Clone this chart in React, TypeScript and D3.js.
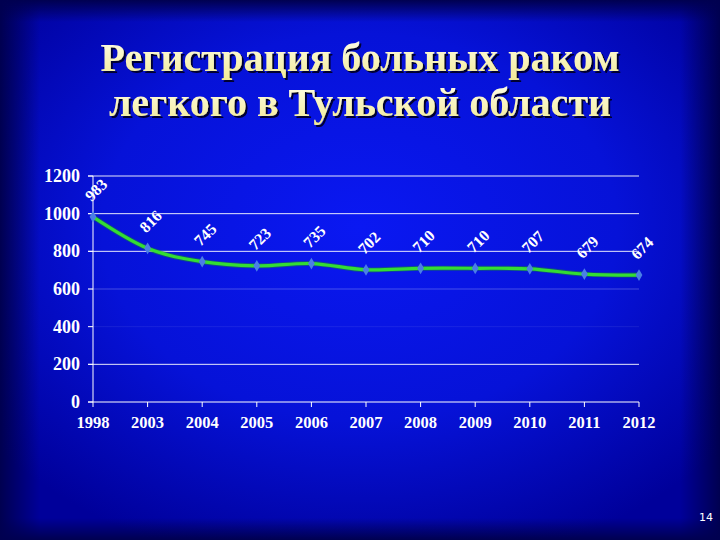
import React from "react";
import * as d3 from "d3";

const years = ["1998", "2003", "2004", "2005", "2006", "2007", "2008", "2009", "2010", "2011", "2012"];
const cases = [983, 816, 745, 723, 735, 702, 710, 710, 707, 679, 674];
const yTicks = [0, 200, 400, 600, 800, 1000, 1200];
const titleLines = ["Регистрация больных раком", "легкого в Тульской области"];
const pageNumber = "14";

const W = 720;
const H = 540;

export default function App() {
  const x = d3.scalePoint<string>().domain(years).range([93, 639]).padding(0);
  const y = d3.scaleLinear().domain([0, 1200]).range([402, 176]);
  const data = years.map((yr, i) => ({ yr, v: cases[i] }));
  const line = d3
    .line<{ yr: string; v: number }>()
    .x((d) => x(d.yr) as number)
    .y((d) => y(d.v))
    .curve(d3.curveCatmullRom.alpha(0));
  const diamond = d3.symbol().type(d3.symbolDiamond).size(40)() as string;
  const serif = "'Liberation Serif', 'Times New Roman', serif";
  const gridOpacity: Record<number, number> = { 0: 1, 200: 0.9, 400: 0.08, 600: 0.25, 800: 0.9, 1000: 0.9, 1200: 0.9 };

  return (
    <svg width={W} height={H} style={{ position: "absolute", left: 0, top: 0 }}>
      <defs>
        <radialGradient id="bg" cx="50%" cy="42%" r="65%">
          <stop offset="0%" stopColor="#0a18f2" />
          <stop offset="55%" stopColor="#0612d8" />
          <stop offset="100%" stopColor="#00009a" />
        </radialGradient>
        <linearGradient id="edgeL" x1="0" y1="0" x2="1" y2="0">
          <stop offset="0%" stopColor="#000050" stopOpacity={1} />
          <stop offset="100%" stopColor="#000050" stopOpacity={0} />
        </linearGradient>
        <linearGradient id="edgeR" x1="1" y1="0" x2="0" y2="0">
          <stop offset="0%" stopColor="#000050" stopOpacity={1} />
          <stop offset="100%" stopColor="#000050" stopOpacity={0} />
        </linearGradient>
        <linearGradient id="edgeT" x1="0" y1="0" x2="0" y2="1">
          <stop offset="0%" stopColor="#000050" stopOpacity={1} />
          <stop offset="100%" stopColor="#000050" stopOpacity={0} />
        </linearGradient>
        <linearGradient id="edgeB" x1="0" y1="1" x2="0" y2="0">
          <stop offset="0%" stopColor="#000050" stopOpacity={1} />
          <stop offset="100%" stopColor="#000050" stopOpacity={0} />
        </linearGradient>
        <linearGradient id="titleFill" x1="0" y1="0" x2="0" y2="1">
          <stop offset="0%" stopColor="#ffffef" />
          <stop offset="100%" stopColor="#f2ea95" />
        </linearGradient>
        <filter id="shadow" x="-5%" y="-20%" width="110%" height="140%">
          <feDropShadow dx={2} dy={2} stdDeviation={0.6} floodColor="#000030" floodOpacity={1} />
        </filter>
      </defs>
      <rect x={0} y={0} width={W} height={H} fill="url(#bg)" />
      <rect x={0} y={0} width={40} height={H} fill="url(#edgeL)" />
      <rect x={W - 40} y={0} width={40} height={H} fill="url(#edgeR)" />
      <rect x={0} y={0} width={W} height={22} fill="url(#edgeT)" />
      <rect x={0} y={H - 22} width={W} height={22} fill="url(#edgeB)" />

      {titleLines.map((t, i) => (
        <text
          key={t}
          x={360}
          y={71 + i * 45}
          textAnchor="middle"
          fontFamily={serif}
          fontWeight="bold"
          fontSize={40}
          fill="url(#titleFill)"
          filter="url(#shadow)"
        >
          {t}
        </text>
      ))}

      {yTicks.map((t) => (
        <g key={t}>
          <line x1={88} x2={639} y1={y(t)} y2={y(t)} stroke="#ffffff" strokeOpacity={gridOpacity[t]} strokeWidth={1} />
          <line x1={88} x2={93} y1={y(t)} y2={y(t)} stroke="#ffffff" />
          <text
            x={80}
            y={y(t) + 6}
            textAnchor="end"
            fontFamily={serif}
            fontWeight="bold"
            fontSize={18}
            fill="#ffffff"
          >
            {t}
          </text>
        </g>
      ))}
      <line x1={93} x2={93} y1={176} y2={402} stroke="#ffffff" />

      {years.map((yr) => (
        <g key={yr}>
          <line x1={x(yr)} x2={x(yr)} y1={402} y2={407} stroke="#ffffff" />
          <text
            x={x(yr) as number}
            y={428}
            textAnchor="middle"
            fontFamily={serif}
            fontWeight="bold"
            fontSize={16.5}
            fill="#ffffff"
          >
            {yr}
          </text>
        </g>
      ))}

      <path d={line(data) as string} fill="none" stroke="#1a8a2a" strokeWidth={5} strokeOpacity={0.5} />
      <path d={line(data) as string} fill="none" stroke="#33dd33" strokeWidth={3.2} />
      {data.map((d) => (
        <path key={d.yr} d={diamond} transform={`translate(${x(d.yr)},${y(d.v)})`} fill="#4a7fe6" />
      ))}
      {data.map((d) => (
        <text
          key={"l" + d.yr}
          transform={`translate(${(x(d.yr) as number) + 3},${y(d.v) - 27}) rotate(-45)`}
          textAnchor="middle"
          dominantBaseline="central"
          fontFamily={serif}
          fontWeight="bold"
          fontSize={16}
          fill="#ffffff"
        >
          {d.v}
        </text>
      ))}

      <text x={706} y={521} textAnchor="middle" fontFamily="'DejaVu Sans', sans-serif" fontSize={11} fill="#ffffff">
        {pageNumber}
      </text>
    </svg>
  );
}
